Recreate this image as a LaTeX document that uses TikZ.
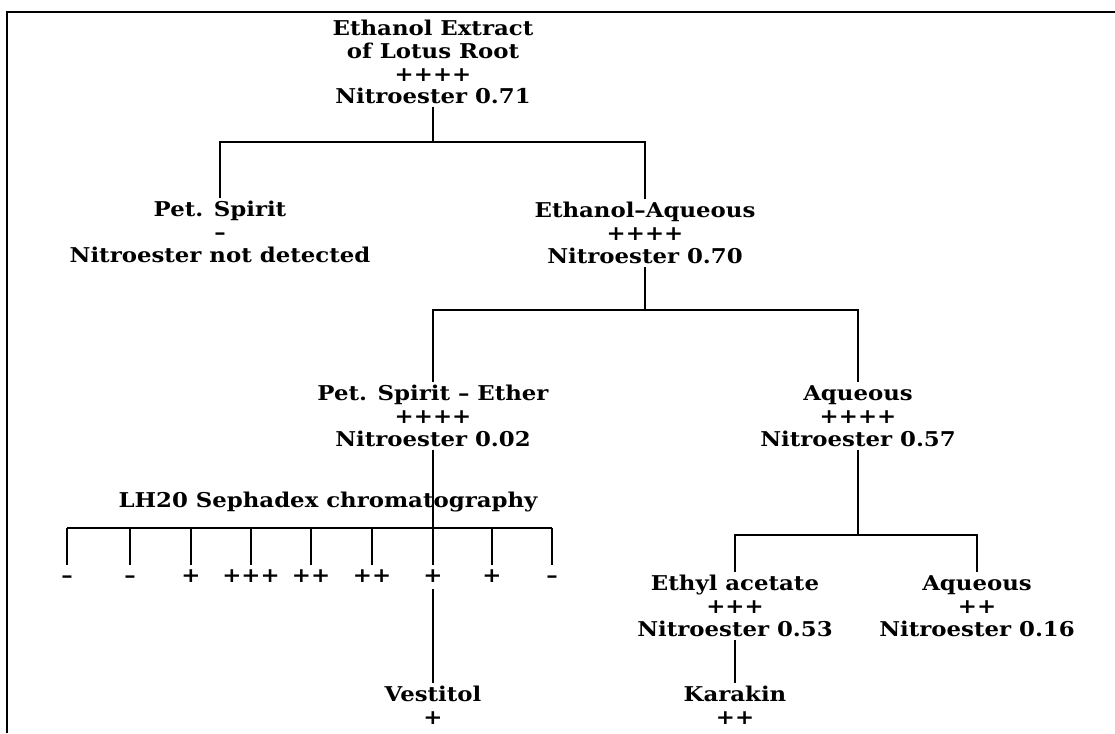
\documentclass[tikz,border=0pt]{standalone}
\usepackage{fontspec}
\usepackage{tikz}
\usetikzlibrary{positioning}
\newfontfamily\labfont{DejaVu Serif}[FakeStretch=1.12]

\tikzstyle{blk}   = [align=center, inner sep=2pt,
                     font=\labfont\bfseries\fontsize{14.5}{16.3}\selectfont]
\tikzstyle{frac}  = [blk, text height=8pt, text depth=0pt, inner sep=4pt]
\tikzstyle{link}  = [line width=1.3pt, color=black]
\tikzstyle{frame} = [line width=1.6pt, color=black]

\begin{document}
\begin{tikzpicture}[x=0.025cm, y=-0.025cm]
  \useasboundingbox (0,0) rectangle (1115,733);
  \draw[frame] (7,733) -- (7,12) -- (1115,12);

  %% Top level
  \node[blk] (root) at (433,62)
        {Ethanol Extract\\of Lotus Root\\++++\\Nitroester 0.71};
  \coordinate (j1) at (433,142);

  \node[blk] (pet) at (220,232) {Pet. Spirit\\–\\Nitroester not detected};
  \node[blk] (eaq) at (645,233) {Ethanol–Aqueous\\++++\\Nitroester 0.70};
  \coordinate (j2) at (645,310);

  %% Second split
  \node[blk] (pse) at (433,416) {Pet. Spirit – Ether\\++++\\Nitroester 0.02};
  \node[blk] (aq)  at (858,416) {Aqueous\\++++\\Nitroester 0.57};
  \coordinate (j3) at (858,535);

  %% Sephadex fractions
  \node[blk] (lh) at (328,502) {LH20 Sephadex chromatography};
  \coordinate (bar) at (433,528);
  \node[frac] (f1) at (67,577)  {–};
  \node[frac] (f2) at (130,577) {–};
  \node[frac] (f3) at (191,577) {+};
  \node[frac] (f4) at (251,577) {+++};
  \node[frac] (f5) at (311,577) {++};
  \node[frac] (f6) at (372,577) {++};
  \node[frac] (f7) at (433,577) {+};
  \node[frac] (f8) at (492,577) {+};
  \node[frac] (f9) at (552,577) {–};
  \node[blk] (ves) at (433,705) {Vestitol\\+};

  %% Aqueous split
  \node[blk] (eac) at (735,606) {Ethyl acetate\\+++\\Nitroester 0.53};
  \node[blk] (aq2) at (977,606) {Aqueous\\++\\Nitroester 0.16};
  \node[blk] (kar) at (735,705) {Karakin\\++};

  %% Lines
  \draw[link] (root) -- (j1);
  \draw[link] (pet.north) |- (j1) -| (eaq.north);
  \draw[link] (eaq) -- (j2);
  \draw[link] (pse.north) |- (j2) -| (aq.north);
  \draw[link] (pse) -- (f7);
  \draw[link] (f1 |- bar) -- (f9 |- bar);
  \draw[link] (f1 |- bar) -- (f1);
  \draw[link] (f2 |- bar) -- (f2);
  \draw[link] (f3 |- bar) -- (f3);
  \draw[link] (f4 |- bar) -- (f4);
  \draw[link] (f5 |- bar) -- (f5);
  \draw[link] (f6 |- bar) -- (f6);
  \draw[link] (f8 |- bar) -- (f8);
  \draw[link] (f9 |- bar) -- (f9);
  \draw[link] (f7) -- (ves);
  \draw[link] (aq) -- (j3);
  \draw[link] (eac.north) |- (j3) -| (aq2.north);
  \draw[link] (eac) -- (kar);

\end{tikzpicture}
\end{document}
